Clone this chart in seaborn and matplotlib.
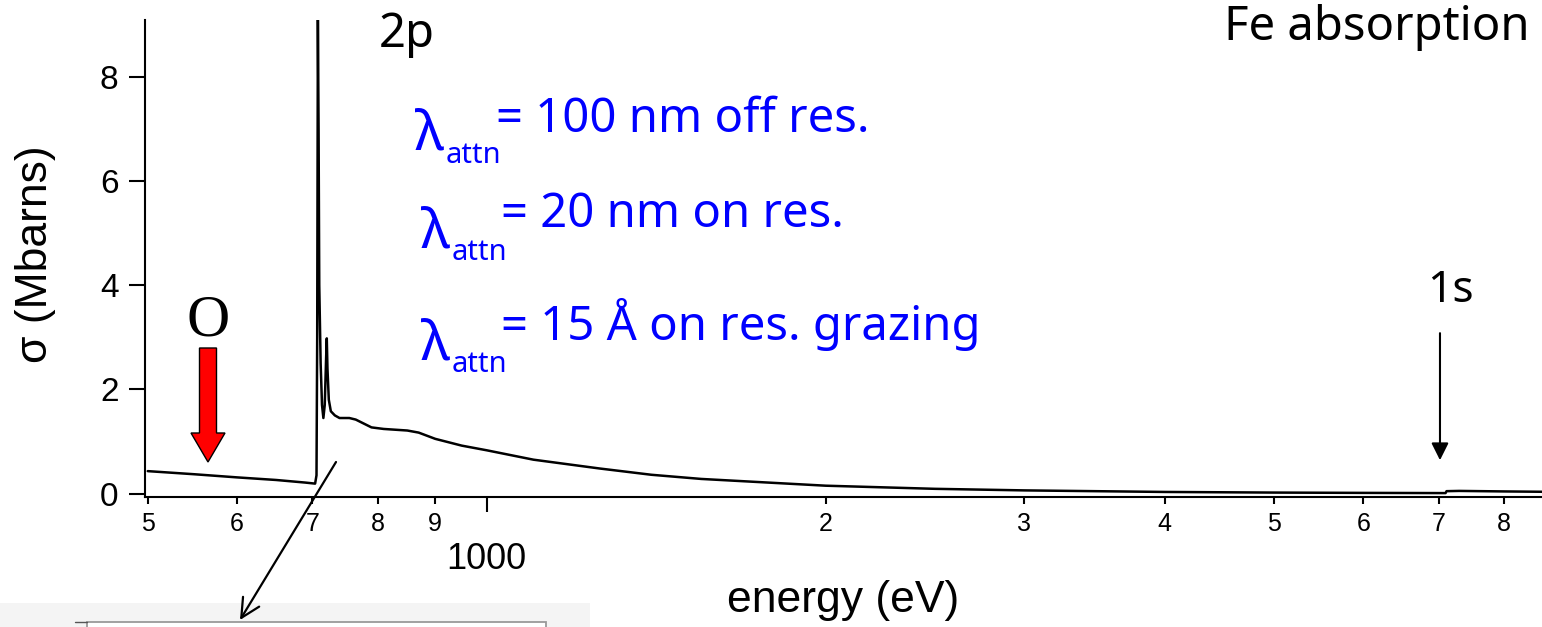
import matplotlib
matplotlib.use("Agg")
import matplotlib.pyplot as plt
import seaborn as sns
import pandas as pd
from matplotlib.patches import FancyArrow, FancyArrowPatch, Rectangle
from matplotlib.lines import Line2D
from matplotlib.ticker import FixedLocator, FixedFormatter

# Fe photoabsorption cross-section (Mbarn) vs photon energy (eV)
energy_ev = [500, 550, 600, 650, 690, 704, 706, 707, 708, 709, 710, 712, 714,
             716, 718, 720, 721, 722, 724, 727, 733, 740, 755, 765, 790, 810,
             850, 870, 900, 950, 1000, 1100, 1260, 1400, 1550, 2000, 2500,
             3000, 4000, 5000, 6000, 7100, 7115, 7300, 8000, 8700]
sigma_mb = [0.43, 0.37, 0.31, 0.26, 0.21, 0.19, 0.35, 3.0, 9.1, 7.0, 4.0,
            2.5, 1.7, 1.45, 1.7, 2.6, 2.98, 2.4, 1.8, 1.58, 1.50, 1.45, 1.45,
            1.42, 1.27, 1.24, 1.21, 1.17, 1.05, 0.92, 0.83, 0.65, 0.48, 0.36,
            0.28, 0.15, 0.09, 0.06, 0.03, 0.018, 0.012, 0.008, 0.045, 0.05,
            0.04, 0.033]

x_major_ticks = [1000]
x_major_labels = ["1000"]
x_minor_ticks = [500, 600, 700, 800, 900, 2000, 3000, 4000, 5000, 6000, 7000, 8000]
x_minor_labels = ["5", "6", "7", "8", "9", "2", "3", "4", "5", "6", "7", "8"]
y_ticks = [0, 2, 4, 6, 8]

edge_labels = ["2p", "1s"]
attn_values = ["= 100 nm off res.", "= 20 nm on res.", "= 15 Å on res. grazing"]

sns.set_style("ticks")
plt.rcParams["font.family"] = ["Liberation Sans", "DejaVu Sans"]
plt.rcParams.update({
    "text.color": "black",
    "axes.labelcolor": "black",
    "axes.edgecolor": "black",
    "xtick.color": "black",
    "ytick.color": "black",
})

W, H = 1542, 627
fig = plt.figure(figsize=(W / 100, H / 100), dpi=100)
fig.patch.set_facecolor("white")


def px(x, y):
    return x / W, 1 - y / H


ax = fig.add_axes([145 / W, (H - 497) / H, (W - 145) / W, 477 / H])
ax.set_facecolor("none")

df = pd.DataFrame({"energy": energy_ev, "sigma": sigma_mb})
sns.lineplot(data=df, x="energy", y="sigma", ax=ax, color="black",
             linewidth=1.8, estimator=None)

ax.set_xscale("log")
ax.set_xlim(497.2, 8648)
ax.set_ylim(-0.067, 9.095)
sns.despine(ax=ax)
for s in ("left", "bottom"):
    ax.spines[s].set_linewidth(1.5)
    ax.spines[s].set_color("black")

ax.xaxis.set_major_locator(FixedLocator(x_major_ticks))
ax.xaxis.set_major_formatter(FixedFormatter(x_major_labels))
ax.xaxis.set_minor_locator(FixedLocator(x_minor_ticks))
ax.xaxis.set_minor_formatter(FixedFormatter(x_minor_labels))
ax.set_yticks(y_ticks)
ax.tick_params(axis="x", which="major", length=10.8, width=1.5, pad=21.5,
               labelsize=26, color="black", labelcolor="black")
ax.tick_params(axis="x", which="minor", length=5, width=1.5, pad=6,
               labelsize=18, color="black", labelcolor="black")
ax.tick_params(axis="y", length=11.5, width=1.5, pad=7.6, labelsize=24,
               color="black", labelcolor="black")

ax.set_xlabel("energy (eV)", fontsize=32, color="black")
ax.set_ylabel("σ (Mbarns)", fontsize=32, color="black")
ax.xaxis.set_label_coords(0.5, -0.175)
ax.yaxis.set_label_coords(-0.064, 0.51)

hand = ["Noto Sans", "DejaVu Sans"]
blue = "#0000ff"

# attenuation-length notes
lam_pos = [(415, 150), (421, 247), (421, 360)]
sub_pos = [(446, 163), (452, 260), (452, 372)]
val_pos = [(496, 132), (501, 227), (501, 340)]
for (lx, ly), (sx, sy), (vx, vy), txt in zip(lam_pos, sub_pos, val_pos, attn_values):
    fig.text(*px(lx, ly), "λ", fontsize=40, color=blue, family=hand, ha="left", va="baseline")
    fig.text(*px(sx, sy), "attn", fontsize=21, color=blue, family=hand, ha="left", va="baseline")
    fig.text(*px(vx, vy), txt, fontsize=34, color=blue, family=hand, ha="left", va="baseline")

fig.text(*px(379, 47), edge_labels[0], fontsize=34, color="black", family=hand, ha="left", va="baseline")
fig.text(*px(1450, 302), edge_labels[1], fontsize=32, color="black", family=hand, ha="center", va="baseline")
fig.text(*px(1530, 40), "Fe absorption", fontsize=34, color="black", family=hand, ha="right", va="baseline")
fig.text(*px(208, 335), "O", fontsize=43, color="black", family=["Liberation Serif"], ha="center", va="baseline")

# oxygen K-edge marker
fig.add_artist(FancyArrow(208 / W, 1 - 348 / H, 0, -(462 - 348) / H,
                          width=17 / W, head_width=34 / W, head_length=29 / H,
                          length_includes_head=True, transform=fig.transFigure,
                          fc="red", ec="black", lw=1, zorder=5))

# Fe K-edge marker
ax.annotate("", xy=(7020, 0.64), xytext=(7020, 3.08),
            arrowprops=dict(arrowstyle="-|>", color="black", lw=1.5,
                            mutation_scale=26, shrinkA=0, shrinkB=0))

# partial inset panel at lower left
fig.add_artist(Rectangle((0, -0.01), 590 / W, (627 - 603) / H + 0.01,
                         transform=fig.transFigure, fc="#f4f4f4", ec="none", zorder=-2))
fig.add_artist(Rectangle((87 / W, -0.02), (546 - 87) / W, (627 - 621.7) / H + 0.02,
                         transform=fig.transFigure, fc="white", ec="#9a9a9a", lw=1.3, zorder=-1))
fig.add_artist(Line2D([75 / W, 87 / W], [1 - 622 / H, 1 - 622 / H],
                      transform=fig.transFigure, color="#555555", lw=1, zorder=-1))

# pointer from the L edge down to the inset
fig.add_artist(FancyArrowPatch(
    px(336, 462), px(240, 620), transform=fig.transFigure,
    arrowstyle="->", mutation_scale=34, color="black", lw=1.6,
    shrinkA=0, shrinkB=0, zorder=6))

fig.savefig("out.png", dpi=100)
